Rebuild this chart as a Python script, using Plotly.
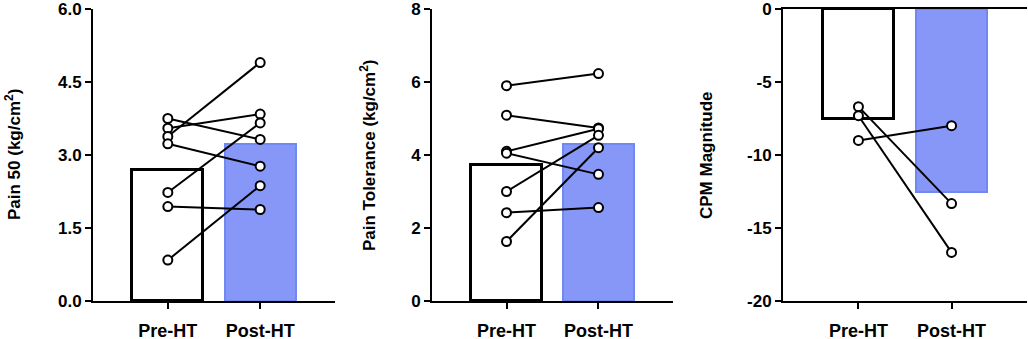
import plotly.graph_objects as go

categories = ["Pre-HT", "Post-HT"]

# Pain 50 (kg/cm2): paired subjects
pain50_pre = [3.75, 3.55, 3.38, 3.23, 2.23, 1.94, 0.84]
pain50_post = [3.32, 3.84, 4.90, 2.77, 3.66, 1.88, 2.37]
pain50_mean = [2.69, 3.23]

# Pain tolerance (kg/cm2)
tol_pre = [5.90, 5.09, 4.10, 4.05, 3.00, 2.42, 1.63]
tol_post = [6.23, 4.74, 4.72, 3.47, 4.54, 2.56, 4.20]
tol_mean = [3.73, 4.31]

# CPM magnitude
cpm_pre = [-6.69, -7.31, -9.00]
cpm_post = [-13.33, -16.67, -7.99]
cpm_mean = [-7.53, -12.56]

y_titles = ["Pain 50 (kg/cm<sup>2</sup>)", "Pain Tolerance (kg/cm<sup>2</sup>)", "CPM Magnitude"]
y_ranges = [[0, 6], [0, 8], [-20, 0]]
y_ticks = [[0, 1.5, 3.0, 4.5, 6.0], [0, 2, 4, 6, 8], [-20, -15, -10, -5, 0]]
y_ticktext = [["0.0", "1.5", "3.0", "4.5", "6.0"], ["0", "2", "4", "6", "8"], ["-20", "-15", "-10", "-5", "0"]]

W, H = 1028, 339
x_px = [(93, 335), (432, 673), (783, 1027)]
title_x_px = [13, 368, 706]
y_dom = [(H - 301) / H, (H - 9) / H]

FONT = "Arial, Liberation Sans, sans-serif"
fill_cols = ["white", "#8797F7"]
line_cols = ["black", "#7088F2"]
line_w = [3, 2]

fig = go.Figure()
panels = [
    (pain50_pre, pain50_post, pain50_mean),
    (tol_pre, tol_post, tol_mean),
    (cpm_pre, cpm_post, cpm_mean),
]

annotations = []
for i, (pre, post, means) in enumerate(panels):
    n = i + 1
    xa = "x" if n == 1 else f"x{n}"
    ya = "y" if n == 1 else f"y{n}"
    fig.add_trace(go.Bar(
        x=categories, y=means, width=0.77,
        marker=dict(color=fill_cols, line=dict(color=line_cols, width=line_w)),
        xaxis=xa, yaxis=ya, showlegend=False,
    ))
    for a, b in zip(pre, post):
        fig.add_trace(go.Scatter(
            x=categories, y=[a, b], mode="lines+markers",
            line=dict(color="black", width=2),
            marker=dict(size=9, color="white", line=dict(color="black", width=2)),
            xaxis=xa, yaxis=ya, showlegend=False, cliponaxis=False,
        ))
    x0, x1 = x_px[i]
    xkey = "xaxis" if n == 1 else f"xaxis{n}"
    ykey = "yaxis" if n == 1 else f"yaxis{n}"
    fig.update_layout(**{
        xkey: dict(
            domain=[x0 / W, x1 / W], anchor=ya, range=[-0.81, 1.81],
            tickvals=categories, ticktext=[f"<b>{c}</b>" for c in categories],
            showline=True, linecolor="black", linewidth=2,
            ticks="outside", ticklen=6, tickwidth=2, tickcolor="black",
            ticklabelstandoff=6, automargin=False,
            tickfont=dict(family=FONT, size=18, color="black"),
            showgrid=False, zeroline=False, mirror=(n == 3),
        ),
        ykey: dict(
            domain=y_dom, anchor=xa, range=y_ranges[i],
            tickvals=y_ticks[i], ticktext=[f"<b>{t}</b>" for t in y_ticktext[i]],
            showline=True, linecolor="black", linewidth=2,
            ticks="outside", ticklen=6, tickwidth=2, tickcolor="black",
            tickfont=dict(family=FONT, size=17, color="black"),
            ticklabeloverflow="allow", automargin=False,
            showgrid=False, zeroline=False,
        ),
    })
    annotations.append(dict(
        text=f"<b>{y_titles[i]}</b>", textangle=-90, xref="paper", yref="paper",
        x=title_x_px[i] / W, y=(y_dom[0] + y_dom[1]) / 2,
        xanchor="center", yanchor="middle", showarrow=False,
        font=dict(family=FONT, size=17, color="black"),
    ))

fig.update_layout(
    width=W, height=H, margin=dict(l=0, r=0, t=0, b=0, autoexpand=False),
    paper_bgcolor="white", plot_bgcolor="white",
    annotations=annotations, bargap=0,
)

fig.write_html(
    "out.html",
    config={"displayModeBar": False},
    post_script="document.body.style.margin='0';document.body.style.overflow='hidden';",
)
